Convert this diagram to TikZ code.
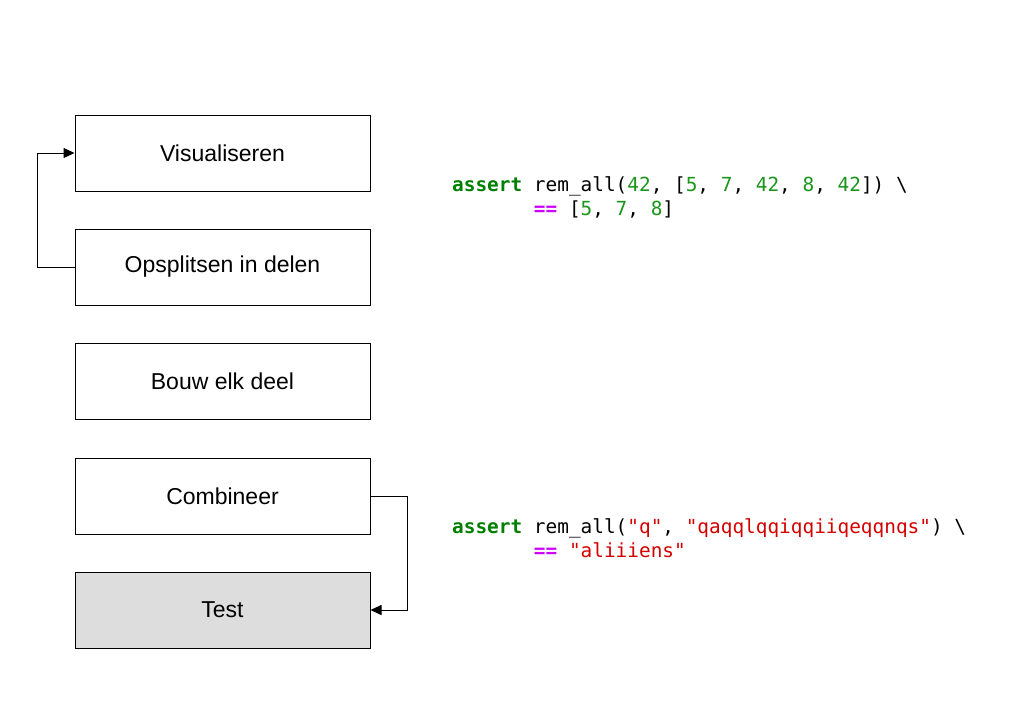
\documentclass[tikz,border=0pt]{standalone}
\usepackage{fontspec}
\setmainfont{Liberation Sans}
\newfontfamily\codefont{DejaVu Sans Mono}
\usetikzlibrary{arrows.meta}
\definecolor{kwgreen}{HTML}{008000}
\definecolor{numgreen}{HTML}{1A961A}
\definecolor{opmag}{HTML}{CC00FF}
\definecolor{strred}{HTML}{D40000}
\definecolor{boxgray}{HTML}{DDDDDD}
\begin{document}
\begin{tikzpicture}[x=1pt,y=-1pt,
  stepbox/.style={draw=black,line width=1pt,minimum width=295pt,minimum height=76pt,
    inner sep=0pt,font=\fontsize{23}{27}\selectfont},
  codeline/.style={anchor=base west,inner sep=0pt,font=\codefont\fontsize{19.4}{24}\selectfont},
  link/.style={line width=1pt,-{Triangle[length=11pt,width=10pt]}}]
\useasboundingbox[fill=white] (0,0) rectangle (1024,724);
% the five steps
\node[stepbox] (vis) at (222.5,153) {Visualiseren};
\node[stepbox] (split) at (222.5,267) {Opsplitsen in delen};
\node[stepbox] (build) at (222.5,381) {Bouw elk deel};
\node[stepbox] (comb) at (222.5,496) {Combineer};
\node[stepbox,fill=boxgray] (test) at (222.5,610) {Test};
% feedback connectors
\draw[link] (split.west) -- ++(-37,0) |- (vis.west);
\draw[link] (comb.east) -- ++(37,0) |- (test.east);
% code examples
\node[codeline] (c1) at (452,191) {\textcolor{kwgreen}{\bfseries assert} rem\_all(\textcolor{numgreen}{42}, [\textcolor{numgreen}{5}, \textcolor{numgreen}{7}, \textcolor{numgreen}{42}, \textcolor{numgreen}{8}, \textcolor{numgreen}{42}]) \textbackslash};
\node[codeline] (c2) at (452,215) {\phantom{assert }\textcolor{opmag}{\bfseries ==} [\textcolor{numgreen}{5}, \textcolor{numgreen}{7}, \textcolor{numgreen}{8}]};
\node[codeline] (c3) at (452,533) {\textcolor{kwgreen}{\bfseries assert} rem\_all(\textcolor{strred}{"q"}, \textcolor{strred}{"qaqqlqqiqqiiqeqqnqs"}) \textbackslash};
\node[codeline] (c4) at (452,557) {\phantom{assert }\textcolor{opmag}{\bfseries ==} \textcolor{strred}{"aliiiens"}};
\end{tikzpicture}
\end{document}
